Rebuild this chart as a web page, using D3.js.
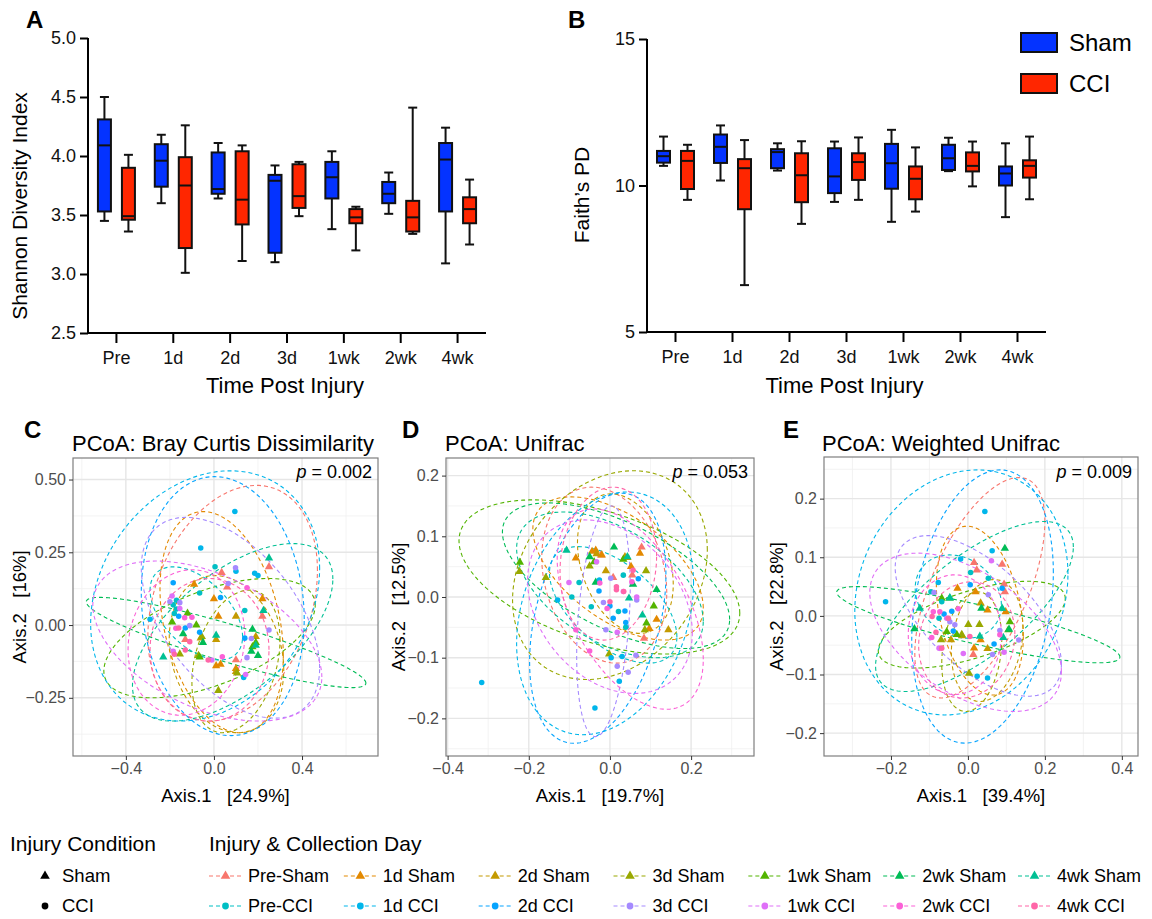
<!DOCTYPE html>
<meta charset="utf-8">
<style>
body { margin: 0; background: #fff; }
svg { font-family: Arial, "Liberation Sans", sans-serif; }
</style>
<body>
<script src="https://cdnjs.cloudflare.com/ajax/libs/d3/7.8.5/d3.min.js"></script>
<script>
// ---- data ----
var categories = ["Pre", "1d", "2d", "3d", "1wk", "2wk", "4wk"];
// [min, q1, median, q3, max]
var shannonSham = [[3.45,3.53,4.09,4.31,4.50],[3.60,3.74,3.96,4.10,4.18],[3.64,3.68,3.72,4.03,4.11],
  [3.10,3.18,3.79,3.84,3.92],[3.38,3.64,3.82,3.95,4.04],[3.51,3.60,3.68,3.78,3.86],[3.09,3.53,3.97,4.11,4.24]];
var shannonCCI = [[3.36,3.46,3.49,3.90,4.01],[3.01,3.22,3.75,3.99,4.26],[3.11,3.42,3.63,4.04,4.09],
  [3.49,3.56,3.66,3.93,3.95],[3.20,3.43,3.48,3.55,3.57],[3.34,3.36,3.48,3.62,4.41],[3.25,3.43,3.55,3.65,3.80]];
var faithSham = [[10.67,10.78,11.0,11.18,11.67],[10.17,10.77,11.32,11.74,12.05],[10.51,10.59,11.14,11.24,11.44],
  [9.44,9.74,10.31,11.27,11.50],[8.76,9.89,10.76,11.42,11.90],[10.49,10.53,10.93,11.39,11.63],[8.92,10.0,10.41,10.65,11.44]];
var faithCCI = [[9.51,9.88,10.84,11.18,11.39],[6.60,9.19,10.59,10.90,11.55],[8.69,9.43,10.35,11.10,11.51],
  [9.51,10.19,10.80,11.10,11.64],[9.11,9.53,10.23,10.65,11.30],[9.97,10.48,10.67,11.13,11.50],[9.53,10.27,10.67,10.86,11.67]];
var shannonTicks = [2.5, 3.0, 3.5, 4.0, 4.5, 5.0];
var faithTicks = [5, 10, 15];
var conditions = ["Sham", "CCI"];
var conditionColors = ["#0433FF", "#FF2600"];

var groupNames = ["Pre-Sham","1d Sham","2d Sham","3d Sham","1wk Sham","2wk Sham","4wk Sham",
  "Pre-CCI","1d CCI","2d CCI","3d CCI","1wk CCI","2wk CCI","4wk CCI"];
var groupColors = ["#F8766D","#E38900","#C49A00","#99A800","#53B400","#00BC56","#00C094",
  "#00BFC4","#00B6EB","#06A4FF","#A58AFF","#DF70F8","#FB61D7","#FF66A8"];

// ellipses: [cx, cy, sx, sy, r] per group
var brayEllipses = [[0.085,0.075,0.385,0.405,0.28],[0.035,0.01,0.28,0.38,-0.3],[0.057,-0.10,0.26,0.27,-0.2],
  [0.10,-0.125,0.2,0.245,0.3],[-0.02,-0.045,0.48,0.205,0.55],[0.055,-0.06,0.635,0.155,-0.9],[0.085,-0.025,0.455,0.305,0.6],
  [-0.08,0.04,0.21,0.16,-0.5],[-0.04,0.10,0.52,0.43,0.22],[0.04,0.065,0.37,0.445,-0.1],[0.075,0.025,0.405,0.345,-0.5],
  [-0.03,-0.055,0.52,0.275,-0.45],[-0.125,-0.06,0.265,0.25,0.1],[-0.02,-0.085,0.27,0.245,0.0]];
var unifracEllipses = [[-0.014,0.036,0.154,0.145,-0.2],[0.02,0.047,0.21,0.118,-0.55],[0.038,0.055,0.118,0.115,-0.3],
  [0.0,0.036,0.24,0.172,0.24],[-0.026,0.033,0.346,0.127,-0.47],[0.015,0.035,0.28,0.12,-0.6],[0.0,0.02,0.23,0.12,-0.5],
  [0.008,-0.013,0.157,0.096,-0.55],[-0.012,-0.027,0.218,0.2,0.25],[-0.03,-0.035,0.168,0.206,0.35],[-0.016,-0.04,0.066,0.19,0.3],
  [0.0,-0.016,0.203,0.143,-0.3],[0.05,-0.02,0.18,0.165,-0.5],[-0.004,0.055,0.119,0.126,0.1]];
var weightedEllipses = [[0.031,0.048,0.169,0.188,0.6],[0.031,0.009,0.113,0.144,-0.3],[0.05,-0.042,0.093,0.104,0.2],
  [0.01,-0.061,0.078,0.102,0.2],[0.01,-0.015,0.243,0.074,0.6],[0.027,-0.015,0.368,0.065,-0.85],[0.017,0.016,0.257,0.145,0.7],
  [-0.025,0.033,0.112,0.071,-0.2],[-0.017,0.04,0.277,0.209,0.15],[0.038,0.016,0.184,0.233,0.25],[0.027,0.0,0.216,0.137,-0.6],
  [-0.006,-0.028,0.249,0.135,-0.5],[-0.034,-0.032,0.121,0.102,0.0],[-0.003,-0.041,0.125,0.099,0.1]];

// points: [group, axis1, axis2]
var brayPoints = [
  [0,0.035,0.18],[0,0.25,0.20],[0,0.22,0.03],[0,0.06,0.13],[0,0.10,-0.12],[0,-0.13,-0.05],
  [1,-0.09,0.14],[1,0.0,0.09],[1,0.02,0.03],[1,0.01,-0.14],[1,0.03,-0.135],[1,0.10,-0.15],[1,0.22,0.09],
  [2,0.10,0.03],[2,0.01,-0.05],[2,-0.06,-0.045],[2,0.10,-0.16],[2,0.19,-0.04],
  [3,0.02,-0.225],[3,-0.055,-0.04],[3,-0.07,-0.105],[3,0.105,-0.165],[3,-0.155,-0.10],
  [4,-0.12,0.04],[4,-0.08,0.0],[4,-0.065,-0.11],[4,0.175,-0.075],[4,-0.19,0.01],[4,0.19,-0.06],
  [5,-0.14,-0.03],[5,0.175,-0.015],[5,0.20,-0.105],[5,0.17,-0.09],[5,-0.05,-0.06],
  [6,0.25,0.23],[6,-0.23,-0.11],[6,0.19,-0.07],[6,0.01,-0.035],[6,0.225,0.05],
  [7,0.005,0.20],[7,0.14,0.05],[7,-0.065,0.11],[7,-0.18,0.04],[7,-0.17,0.055],[7,-0.185,0.07],[7,-0.17,0.085],
  [8,0.095,0.39],[8,-0.06,0.265],[8,0.10,0.185],[8,0.185,0.178],[8,0.20,0.17],[8,-0.29,0.02],[8,0.135,-0.18],
  [9,-0.185,0.145],[9,0.03,0.095],[9,0.14,-0.045],[9,-0.065,-0.025],[9,-0.13,-0.01],[9,-0.16,0.03],
  [10,0.098,0.197],[10,0.065,0.143],[10,-0.20,0.08],[10,-0.155,0.077],[10,-0.11,-0.002],[10,0.17,-0.046],[10,0.15,-0.112],[10,0.25,-0.017],
  [11,-0.19,0.10],[11,-0.155,0.057],[11,0.144,-0.17],[11,-0.185,-0.09],[11,-0.01,-0.12],
  [12,-0.133,0.025],[12,-0.173,-0.011],[12,0.038,-0.109],[12,0.15,0.128],[12,-0.10,0.027],
  [13,-0.13,-0.086],[13,-0.16,-0.01],[13,-0.11,-0.057],[13,-0.18,-0.10],[13,-0.026,-0.12]];
var unifracPoints = [
  [0,-0.022,0.069],[0,0.078,0.082],[0,0.084,-0.068],[0,0.008,0.032],[0,0.055,0.036],
  [1,-0.084,0.064],[1,-0.044,0.075],[1,-0.035,0.077],[1,-0.02,0.069],[1,0.052,0.05],[1,0.074,0.072],[1,0.115,-0.037],[1,0.097,-0.052],
  [2,0.043,0.065],[2,-0.01,0.043],[2,-0.033,0.071],[2,0.037,0.066],[2,0.144,-0.054],
  [3,-0.223,0.042],[3,-0.158,0.032],[3,-0.05,0.051],[3,0.086,-0.054],[3,-0.002,-0.094],[3,0.089,0.043],
  [4,-0.222,0.057],[4,-0.039,0.058],[4,0.033,0.062],[4,0.108,-0.015],[4,0.09,-0.043],
  [5,-0.05,0.066],[5,0.01,0.082],[5,0.115,0.012],[5,-0.035,0.024],[5,0.057,0.021],
  [6,0.047,-0.002],[6,-0.107,0.077],[6,0.043,0.066],[6,0.08,-0.03],
  [7,-0.076,0.024],[7,-0.094,0.0],[7,-0.046,-0.016],[7,0.021,-0.024],[7,0.033,0.036],[7,0.039,-0.05],
  [8,-0.316,-0.141],[8,-0.037,-0.183],[8,-0.129,-0.005],[8,-0.026,0.028],[8,0.03,-0.098],[8,0.003,-0.1],[8,0.023,-0.139],
  [9,0.07,0.03],[9,0.0,-0.015],[9,0.037,-0.023],[9,0.039,-0.042],[9,0.008,-0.035],[9,-0.027,0.01],
  [10,-0.016,-0.009],[10,-0.01,-0.054],[10,0.018,-0.114],[10,0.045,-0.124],[10,0.066,-0.005],[10,0.002,0.031],[10,0.064,-0.096],
  [11,-0.101,0.024],[11,0.018,-0.058],[11,-0.033,0.058],[11,0.033,0.009],[11,0.066,0.0],
  [12,-0.084,-0.054],[12,-0.05,-0.089],[12,-0.025,0.023],[12,-0.007,-0.019],[12,0.054,0.025],
  [13,0.016,0.012],[13,0.034,0.009],[13,0.016,0.017],[13,0.057,0.044],[13,0.0,-0.008]];
var weightedPoints = [
  [0,0.016,0.091],[0,0.023,0.078],[0,0.089,0.088],[0,0.094,0.054],[0,0.096,0.041],[0,0.014,-0.066],
  [1,-0.027,0.047],[1,0.02,0.041],[1,0.051,0.01],[1,0.098,0.007],[1,0.033,-0.041],[1,0.016,-0.055],
  [2,0.033,0.022],[2,-0.044,-0.041],[2,0.051,-0.056],[2,-0.015,-0.034],
  [3,0.001,-0.015],[3,0.03,-0.015],[3,0.003,-0.098],[3,-0.07,-0.041],[3,-0.016,-0.032],
  [4,-0.068,0.03],[4,-0.029,-0.032],[4,0.109,-0.01],[4,0.105,-0.024],[4,-0.055,-0.027],
  [5,0.096,0.115],[5,0.035,0.013],[5,0.107,-0.023],[5,-0.139,-0.022],[5,-0.047,0.03],
  [6,-0.125,0.013],[6,0.031,-0.035],[6,0.089,0.013],[6,-0.047,0.031],[6,0.092,-0.037],
  [7,0.007,0.074],[7,-0.096,0.041],[7,-0.068,0.024],[7,-0.075,-0.004],[7,0.053,0.064],
  [8,0.044,0.178],[8,0.063,0.111],[8,-0.019,0.097],[8,-0.077,0.057],[8,-0.214,0.024],[8,0.024,-0.103],[8,0.051,-0.106],
  [9,0.006,0.053],[9,-0.042,0.008],[9,-0.038,-0.026],[9,0.068,-0.048],[9,0.089,0.047],[9,-0.062,0.003],
  [10,-0.088,0.04],[10,0.053,0.036],[10,-0.047,-0.01],[10,-0.034,-0.015],[10,0.083,-0.025],[10,0.132,-0.041],[10,0.064,-0.066],
  [11,0.061,0.094],[11,-0.055,-0.004],[11,-0.075,-0.055],[11,-0.012,-0.064],[11,0.094,-0.062],
  [12,-0.09,0.007],[12,-0.094,-0.037],[12,-0.025,0.012],[12,-0.073,0.007],[12,0.083,-0.032],
  [13,-0.093,-0.001],[13,-0.051,-0.004],[13,-0.083,-0.028],[13,0.005,-0.035],[13,-0.068,-0.055]];

var brayXTicks = [-0.4, 0.0, 0.4], brayYTicks = [-0.25, 0.0, 0.25, 0.5];
var brayXMinor = [-0.6, -0.2, 0.2, 0.6], brayYMinor = [-0.375, -0.125, 0.125, 0.375];
var unifracXTicks = [-0.4, -0.2, 0.0, 0.2], unifracYTicks = [-0.2, -0.1, 0.0, 0.1, 0.2];
var unifracXMinor = [-0.3, -0.1, 0.1, 0.3], unifracYMinor = [-0.25, -0.15, -0.05, 0.05, 0.15];
var weightedXTicks = [-0.2, 0.0, 0.2, 0.4], weightedYTicks = [-0.2, -0.1, 0.0, 0.1, 0.2];
var weightedXMinor = [-0.3, -0.1, 0.1, 0.3], weightedYMinor = [-0.15, -0.05, 0.05, 0.15, 0.25];

var svg = d3.select("body").append("svg").attr("width", 1152).attr("height", 919);

function minusFmt(f) { return function(d) { return d3.format(f)(d).replace("-", "\u2212"); }; }

// ---- box plots ----
function boxPanel(o) {
  var x = d3.scaleBand().domain(categories).range([o.left, o.right]);
  var y = d3.scaleLinear().domain(o.domain).range([o.bottom, o.top]);
  var g = svg.append("g");
  var yAx = g.append("g").attr("transform", "translate(" + o.left + ",0)")
    .call(d3.axisLeft(y).tickValues(o.ticks).tickFormat(o.fmt).tickSize(8).tickPadding(4));
  var xAx = g.append("g").attr("transform", "translate(0," + o.bottom + ")")
    .call(d3.axisBottom(x).tickSize(10).tickPadding(8));
  [yAx, xAx].forEach(function(a) {
    a.selectAll("path,line").attr("stroke", "#000").attr("stroke-width", 2);
    a.selectAll("text").attr("font-size", 18).attr("fill", "#111");
  });
  yAx.select(".domain").attr("d", "M0," + (o.bottom + 1) + "V" + o.top);
  xAx.select(".domain").attr("d", "M" + o.left + ",0H" + o.right);

  [o.sham, o.cci].forEach(function(stats, k) {
    var off = k === 0 ? -12 : 12;
    var bw = 13;
    var bg = g.selectAll(null).data(stats).enter().append("g")
      .attr("transform", function(d, i) { return "translate(" + (x(categories[i]) + x.bandwidth() / 2 + off) + ",0)"; });
    bg.append("line").attr("y1", function(d) { return y(d[0]); }).attr("y2", function(d) { return y(d[4]); })
      .attr("stroke", "#111").attr("stroke-width", 2);
    bg.append("line").attr("x1", -4.5).attr("x2", 4.5).attr("y1", function(d) { return y(d[0]); }).attr("y2", function(d) { return y(d[0]); })
      .attr("stroke", "#111").attr("stroke-width", 2);
    bg.append("line").attr("x1", -4.5).attr("x2", 4.5).attr("y1", function(d) { return y(d[4]); }).attr("y2", function(d) { return y(d[4]); })
      .attr("stroke", "#111").attr("stroke-width", 2);
    bg.append("rect").attr("x", -bw / 2).attr("width", bw)
      .attr("y", function(d) { return y(d[3]); }).attr("height", function(d) { return y(d[1]) - y(d[3]); })
      .attr("fill", conditionColors[k]).attr("stroke", "#111").attr("stroke-width", 2);
    bg.append("line").attr("x1", -bw / 2).attr("x2", bw / 2).attr("y1", function(d) { return y(d[2]); }).attr("y2", function(d) { return y(d[2]); })
      .attr("stroke", "#111").attr("stroke-width", 2);
  });

  g.append("text").attr("x", (o.left + o.right) / 2 - 2).attr("y", 393).attr("text-anchor", "middle")
    .attr("font-size", 22).text("Time Post Injury");
  g.append("text").attr("transform", "translate(" + o.titleX + "," + o.titleY + ") rotate(-90)")
    .attr("text-anchor", "middle").attr("font-size", 21).text(o.ylabel);
  g.append("text").attr("x", o.letterX).attr("y", 28).attr("font-size", 24).attr("font-weight", "bold").text(o.letter);
}

boxPanel({ left: 88, right: 486, top: 38, bottom: 333, domain: [2.5, 5.0], ticks: shannonTicks, fmt: d3.format(".1f"),
  sham: shannonSham, cci: shannonCCI, ylabel: "Shannon Diversity Index", titleX: 27, titleY: 206, letter: "A", letterX: 26 });
boxPanel({ left: 647, right: 1046, top: 39, bottom: 332, domain: [5, 15], ticks: faithTicks, fmt: d3.format("d"),
  sham: faithSham, cci: faithCCI, ylabel: "Faith\u2019s PD", titleX: 589, titleY: 195, letter: "B", letterX: 568 });

// legend for B
conditions.forEach(function(c, k) {
  var ly = 33 + k * 41;
  svg.append("rect").attr("x", 1021).attr("y", ly).attr("width", 36).attr("height", 19)
    .attr("fill", conditionColors[k]).attr("stroke", "#111").attr("stroke-width", 2);
  svg.append("text").attr("x", 1069).attr("y", ly + 18).attr("font-size", 24).text(c);
});

// ---- PCoA panels ----
var tri = d3.symbol().type(d3.symbolTriangle).size(30);

function pcoaPanel(o, idx) {
  var x = d3.scaleLinear().domain(o.xDomain).range([o.left, o.right]);
  var y = d3.scaleLinear().domain(o.yDomain).range([o.bottom, o.top]);
  var g = svg.append("g");
  var clipId = "clip" + idx;
  g.append("clipPath").attr("id", clipId).append("rect")
    .attr("x", o.left).attr("y", o.top).attr("width", o.right - o.left).attr("height", o.bottom - o.top);

  g.selectAll(".minx").data(o.xMinor).enter().append("line")
    .attr("x1", x).attr("x2", x).attr("y1", o.top).attr("y2", o.bottom).attr("stroke", "#F0F0F0").attr("stroke-width", 0.8);
  g.selectAll(".miny").data(o.yMinor).enter().append("line")
    .attr("y1", y).attr("y2", y).attr("x1", o.left).attr("x2", o.right).attr("stroke", "#F0F0F0").attr("stroke-width", 0.8);
  g.selectAll(".majx").data(o.xTicks).enter().append("line")
    .attr("x1", x).attr("x2", x).attr("y1", o.top).attr("y2", o.bottom).attr("stroke", "#E6E6E6").attr("stroke-width", 1.4);
  g.selectAll(".majy").data(o.yTicks).enter().append("line")
    .attr("y1", y).attr("y2", y).attr("x1", o.left).attr("x2", o.right).attr("stroke", "#E6E6E6").attr("stroke-width", 1.4);

  var plot = g.append("g").attr("clip-path", "url(#" + clipId + ")");
  var line = d3.line().x(function(p) { return x(p[0]); }).y(function(p) { return y(p[1]); }).curve(d3.curveLinearClosed);
  plot.selectAll(".ell").data(o.ellipses).enter().append("path")
    .attr("d", function(e) {
      var pts = d3.range(0, 120).map(function(i) {
        var t = i / 120 * 2 * Math.PI;
        return [e[0] + e[2] * Math.cos(t), e[1] + e[3] * (e[4] * Math.cos(t) + Math.sqrt(1 - e[4] * e[4]) * Math.sin(t))];
      });
      return line(pts);
    })
    .attr("fill", "none").attr("stroke", function(e, i) { return groupColors[i]; })
    .attr("stroke-width", 1.1).attr("stroke-dasharray", "4,3");

  plot.selectAll(".pt").data(o.points).enter().append("path")
    .attr("transform", function(p) { return "translate(" + x(p[1]) + "," + y(p[2]) + ")"; })
    .attr("d", function(p) { return p[0] < 7 ? tri() : d3.symbol().type(d3.symbolCircle).size(24)(); })
    .attr("fill", function(p) { return groupColors[p[0]]; });

  g.append("rect").attr("x", o.left).attr("y", o.top).attr("width", o.right - o.left).attr("height", o.bottom - o.top)
    .attr("fill", "none").attr("stroke", "#7F7F7F").attr("stroke-width", 1.2);

  var xa = g.append("g").attr("transform", "translate(0," + o.bottom + ")")
    .call(d3.axisBottom(x).tickValues(o.xTicks).tickFormat(minusFmt(o.xFmt)).tickSize(4).tickPadding(3));
  var ya = g.append("g").attr("transform", "translate(" + o.left + ",0)")
    .call(d3.axisLeft(y).tickValues(o.yTicks).tickFormat(minusFmt(o.yFmt)).tickSize(4).tickPadding(3));
  [xa, ya].forEach(function(a) {
    a.select(".domain").remove();
    a.selectAll("line").attr("stroke", "#333");
    a.selectAll("text").attr("font-size", 16).attr("fill", "#4D4D4D");
  });

  g.append("text").attr("x", (o.left + o.right) / 2).attr("y", 802).attr("text-anchor", "middle")
    .attr("font-size", 18.5).attr("xml:space", "preserve").text(o.xlabel);
  g.append("text").attr("transform", "translate(" + o.ylabelX + "," + ((o.top + o.bottom) / 2) + ") rotate(-90)")
    .attr("text-anchor", "middle").attr("font-size", 18.5).attr("xml:space", "preserve").text(o.ylabel);
  g.append("text").attr("x", o.titleX).attr("y", 451).attr("font-size", 22).text(o.title);
  g.append("text").attr("x", o.letterX).attr("y", 438).attr("font-size", 24).attr("font-weight", "bold").text(o.letter);
  var pt = g.append("text").attr("x", o.right - 6).attr("y", 478).attr("text-anchor", "end").attr("font-size", 18);
  pt.append("tspan").attr("font-style", "italic").text("p");
  pt.append("tspan").text(" = " + o.p);
}

pcoaPanel({ left: 73, right: 378, top: 458, bottom: 756, xDomain: [-0.64, 0.745], yDomain: [-0.45, 0.574],
  xTicks: brayXTicks, yTicks: brayYTicks, xMinor: brayXMinor, yMinor: brayYMinor, xFmt: ".1f", yFmt: ".2f",
  ellipses: brayEllipses, points: brayPoints, title: "PCoA: Bray Curtis Dissimilarity", titleX: 72,
  letter: "C", letterX: 24, xlabel: "Axis.1   [24.9%]", ylabel: "Axis.2   [16%]", ylabelX: 26, p: "0.002" }, 0);
pcoaPanel({ left: 446, right: 754, top: 458, bottom: 756, xDomain: [-0.404, 0.355], yDomain: [-0.262, 0.229],
  xTicks: unifracXTicks, yTicks: unifracYTicks, xMinor: unifracXMinor, yMinor: unifracYMinor, xFmt: ".1f", yFmt: ".1f",
  ellipses: unifracEllipses, points: unifracPoints, title: "PCoA: Unifrac", titleX: 445,
  letter: "D", letterX: 402, xlabel: "Axis.1   [19.7%]", ylabel: "Axis.2   [12.5%]", ylabelX: 405, p: "0.053" }, 1);
pcoaPanel({ left: 824, right: 1138, top: 457, bottom: 756, xDomain: [-0.374, 0.442], yDomain: [-0.239, 0.271],
  xTicks: weightedXTicks, yTicks: weightedYTicks, xMinor: weightedXMinor, yMinor: weightedYMinor, xFmt: ".1f", yFmt: ".1f",
  ellipses: weightedEllipses, points: weightedPoints, title: "PCoA: Weighted Unifrac", titleX: 822,
  letter: "E", letterX: 783, xlabel: "Axis.1   [39.4%]", ylabel: "Axis.2   [22.8%]", ylabelX: 783, p: "0.009" }, 2);

// ---- bottom legend ----
var leg = svg.append("g");
leg.append("text").attr("x", 10).attr("y", 851).attr("font-size", 21).text("Injury Condition");
leg.append("text").attr("x", 209).attr("y", 851).attr("font-size", 21).text("Injury & Collection Day");
conditions.forEach(function(c, k) {
  var ly = 876 + k * 30;
  leg.append("path").attr("transform", "translate(45," + ly + ")")
    .attr("d", k === 0 ? d3.symbol().type(d3.symbolTriangle).size(40)() : d3.symbol().type(d3.symbolCircle).size(36)())
    .attr("fill", "#000");
  leg.append("text").attr("x", 62).attr("y", ly + 6).attr("font-size", 18.5).text(c);
});
var colX = d3.scaleLinear().domain([0, 6]).range([209, 1018]);
groupNames.forEach(function(name, i) {
  var col = i % 7, row = Math.floor(i / 7);
  var lx = colX(col), ly = 876 + row * 30;
  leg.append("line").attr("x1", lx).attr("x2", lx + 33).attr("y1", ly).attr("y2", ly)
    .attr("stroke", groupColors[i]).attr("stroke-width", 1.1).attr("stroke-dasharray", "4,3");
  leg.append("path").attr("transform", "translate(" + (lx + 16.5) + "," + ly + ")")
    .attr("d", row === 0 ? d3.symbol().type(d3.symbolTriangle).size(40)() : d3.symbol().type(d3.symbolCircle).size(36)())
    .attr("fill", groupColors[i]);
  leg.append("text").attr("x", lx + 39).attr("y", ly + 6).attr("font-size", 18).text(name);
});
</script>
</body>
